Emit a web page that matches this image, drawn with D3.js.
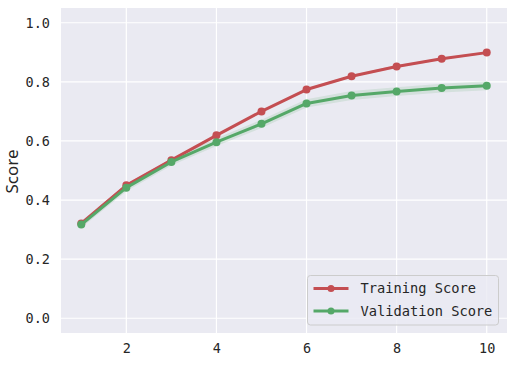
<!DOCTYPE html>
<html>
<head>
<meta charset="utf-8">
<script src="https://cdn.jsdelivr.net/npm/d3@7"></script>
<style>
  body { margin: 0; background: #fff; }
  svg { display: block; }
</style>
</head>
<body>
<div id="chart"></div>
<script>
const sizes = [1, 2, 3, 4, 5, 6, 7, 8, 9, 10];
const trainScore = [0.321, 0.450, 0.535, 0.619, 0.700, 0.774, 0.819, 0.852, 0.878, 0.899];
const trainStd = [0.004, 0.004, 0.004, 0.004, 0.004, 0.004, 0.004, 0.004, 0.004, 0.004];
const validScore = [0.317, 0.442, 0.529, 0.596, 0.658, 0.727, 0.754, 0.767, 0.779, 0.787];
const validStd = [0.011, 0.012, 0.012, 0.013, 0.014, 0.014, 0.015, 0.015, 0.015, 0.015];
const xTicks = [2, 4, 6, 8, 10];
const yTicks = [0.0, 0.2, 0.4, 0.6, 0.8, 1.0];

const W = 513, H = 384;
const margin = { top: 8, right: 6, bottom: 51, left: 61 };
const width = W - margin.left - margin.right;
const height = H - margin.top - margin.bottom;

const monoFont = "'DejaVu Sans Mono', monospace";

const svg = d3.select("#chart").append("svg")
  .attr("width", W).attr("height", H);

const g = svg.append("g").attr("transform", `translate(${margin.left},${margin.top})`);

const x = d3.scaleLinear().domain([0.55, 10.45]).range([0, width]);
const y = d3.scaleLinear().domain([-0.05, 1.05]).range([height, 0]);

g.append("rect").attr("width", width).attr("height", height).attr("fill", "#EAEAF2");

// grid
g.selectAll(".gx").data(xTicks).join("line")
  .attr("x1", d => x(d)).attr("x2", d => x(d))
  .attr("y1", 0).attr("y2", height)
  .attr("stroke", "#fff").attr("stroke-width", 1.2);
g.selectAll(".gy").data(yTicks).join("line")
  .attr("y1", d => y(d)).attr("y2", d => y(d))
  .attr("x1", 0).attr("x2", width)
  .attr("stroke", "#fff").attr("stroke-width", 1.2);

// axes
const xAxis = g.append("g").attr("transform", `translate(0,${height})`)
  .call(d3.axisBottom(x).tickValues(xTicks).tickSize(0).tickPadding(10).tickFormat(d3.format("d")));
const yAxis = g.append("g")
  .call(d3.axisLeft(y).tickValues(yTicks).tickSize(0).tickPadding(11).tickFormat(d3.format(".1f")));
[xAxis, yAxis].forEach(a => {
  a.select(".domain").remove();
  a.selectAll("text").attr("font-family", monoFont).attr("font-size", 13.5).attr("fill", "#262626");
});

svg.append("text")
  .attr("transform", `translate(18,${margin.top + height / 2 + 1}) rotate(-90)`)
  .attr("text-anchor", "middle")
  .attr("font-family", "'Noto Sans', 'DejaVu Sans', sans-serif")
  .attr("font-size", 17).attr("fill", "#262626")
  .text("Score");

const series = [
  { name: "Training Score", mean: trainScore, std: trainStd, color: "#C44E52" },
  { name: "Validation Score", mean: validScore, std: validStd, color: "#55A868" }
];

const area = d3.area()
  .x((d, i) => x(sizes[i]))
  .y0(d => y(d[0] - d[1]))
  .y1(d => y(d[0] + d[1]));
const line = d3.line().x((d, i) => x(sizes[i])).y(d => y(d));

series.forEach(s => {
  g.append("path")
    .datum(s.mean.map((m, i) => [m, s.std[i]]))
    .attr("d", area).attr("fill", s.color).attr("fill-opacity", 0.15);
});
series.forEach(s => {
  g.append("path").datum(s.mean).attr("d", line)
    .attr("fill", "none").attr("stroke", s.color).attr("stroke-width", 3)
    .attr("stroke-linejoin", "round");
  g.selectAll(null).data(s.mean).join("circle")
    .attr("cx", (d, i) => x(sizes[i])).attr("cy", d => y(d))
    .attr("r", 4).attr("fill", s.color);
});

// legend
const lg = svg.append("g").attr("transform", "translate(307.5,275.5)");
lg.append("rect").attr("width", 191).attr("height", 49.5).attr("rx", 3)
  .attr("fill", "#EAEAF2").attr("fill-opacity", 0.8)
  .attr("stroke", "#cccccc").attr("stroke-width", 1);
series.forEach((s, i) => {
  const row = lg.append("g").attr("transform", `translate(0,${13 + i * 22.5})`);
  row.append("line").attr("x1", 6).attr("x2", 41).attr("y1", 0).attr("y2", 0)
    .attr("stroke", s.color).attr("stroke-width", 3);
  row.append("circle").attr("cx", 23.5).attr("cy", 0).attr("r", 3.5).attr("fill", s.color);
  row.append("text").attr("x", 53).attr("y", 0).attr("dy", "0.36em")
    .attr("font-family", monoFont).attr("font-size", 13.7).attr("fill", "#262626")
    .text(s.name);
});
</script>
</body>
</html>
